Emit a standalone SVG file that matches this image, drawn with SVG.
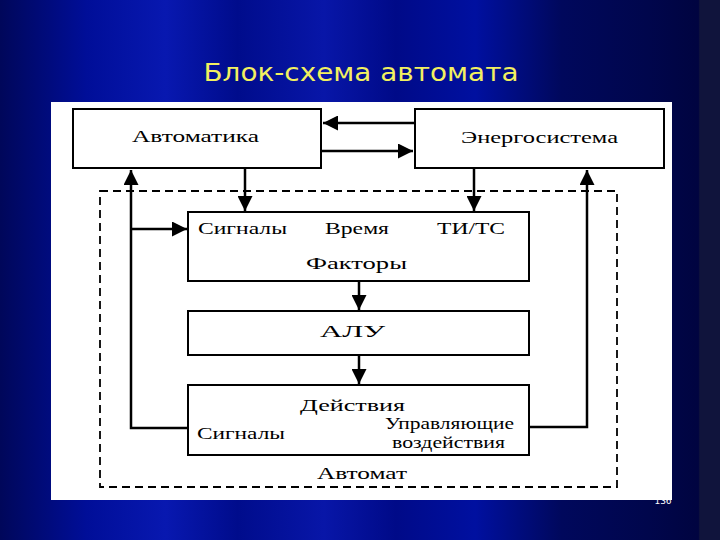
<svg xmlns="http://www.w3.org/2000/svg" width="720" height="540" viewBox="0 0 720 540">
<defs>
<linearGradient id="bg" x1="0" y1="0" x2="1" y2="0">
<stop offset="0" stop-color="#00075a"/>
<stop offset="0.12" stop-color="#000e98"/>
<stop offset="0.23" stop-color="#0818b0"/>
<stop offset="0.33" stop-color="#000c8c"/>
<stop offset="0.45" stop-color="#0816a8"/>
<stop offset="0.55" stop-color="#000a88"/>
<stop offset="0.66" stop-color="#0010a0"/>
<stop offset="0.78" stop-color="#00085c"/>
<stop offset="0.9" stop-color="#00064c"/>
<stop offset="0.97" stop-color="#000440"/>
<stop offset="0.972" stop-color="#10143c"/>
<stop offset="1" stop-color="#10143c"/>
</linearGradient>
<marker id="ah" markerUnits="userSpaceOnUse" markerWidth="15" markerHeight="15" viewBox="0 0 10 10" refX="10" refY="5" orient="auto">
<path d="M0,0 L10,5 L0,10 z" fill="#000"/>
</marker>
<style>
.box{fill:#fff;stroke:#000;stroke-width:2}
.ln{fill:none;stroke:#000;stroke-width:2.5}
.t{font-family:"Liberation Serif","Times New Roman",serif;font-size:17px;fill:#000}
</style>
</defs>
<rect width="720" height="540" fill="url(#bg)"/>
<text x="361" y="81" text-anchor="middle" font-family="'DejaVu Sans',Verdana,sans-serif" font-size="25" fill="#f2f060" textLength="315" lengthAdjust="spacingAndGlyphs">Блок-схема автомата</text>
<rect x="51" y="102" width="621" height="398" fill="#fff"/>
<text x="663" y="504" text-anchor="middle" font-family="'DejaVu Sans',sans-serif" font-size="9" fill="#fff">136</text>

<g id="automat-frame">
<rect x="100" y="191" width="517" height="296" fill="none" stroke="#000" stroke-width="1.8" stroke-dasharray="8,5"/>
<text class="t" x="317" y="479" textLength="90" lengthAdjust="spacingAndGlyphs">Автомат</text>
</g>

<g id="connectors">
<line class="ln" x1="415" y1="123" x2="323" y2="123" marker-end="url(#ah)"/>
<line class="ln" x1="321" y1="151" x2="413" y2="151" marker-end="url(#ah)"/>
<line class="ln" x1="245" y1="168" x2="245" y2="211" marker-end="url(#ah)"/>
<line class="ln" x1="474" y1="168" x2="474" y2="211" marker-end="url(#ah)"/>
<polyline class="ln" points="188,428 131,428 131,170" marker-end="url(#ah)"/>
<line class="ln" x1="131" y1="229" x2="187" y2="229" marker-end="url(#ah)"/>
<polyline class="ln" points="529,427 587,427 587,170" marker-end="url(#ah)"/>
<line class="ln" x1="359" y1="281" x2="359" y2="310" marker-end="url(#ah)"/>
<line class="ln" x1="359" y1="355" x2="359" y2="384" marker-end="url(#ah)"/>
</g>

<g id="avtomatika">
<rect class="box" x="73" y="109" width="248" height="59"/>
<text class="t" x="132" y="142" textLength="127" lengthAdjust="spacingAndGlyphs">Автоматика</text>
</g>
<g id="energosistema">
<rect class="box" x="415" y="109" width="249" height="59"/>
<text class="t" x="461" y="143" textLength="157" lengthAdjust="spacingAndGlyphs">Энергосистема</text>
</g>
<g id="faktory">
<rect class="box" x="188" y="212" width="341" height="69"/>
<text class="t" x="198" y="234" textLength="89" lengthAdjust="spacingAndGlyphs">Сигналы</text>
<text class="t" x="325" y="234" textLength="64" lengthAdjust="spacingAndGlyphs">Время</text>
<text class="t" x="437" y="234" textLength="68" lengthAdjust="spacingAndGlyphs">ТИ/ТС</text>
<text class="t" x="306" y="269" textLength="101" lengthAdjust="spacingAndGlyphs">Факторы</text>
</g>
<g id="alu">
<rect class="box" x="188" y="311" width="341" height="44"/>
<text class="t" x="320" y="337" textLength="65" lengthAdjust="spacingAndGlyphs">АЛУ</text>
</g>
<g id="deystviya">
<rect class="box" x="188" y="385" width="341" height="70"/>
<text class="t" x="300" y="411" textLength="105" lengthAdjust="spacingAndGlyphs">Действия</text>
<text class="t" x="197" y="439" textLength="88" lengthAdjust="spacingAndGlyphs">Сигналы</text>
<text class="t" x="385" y="429" textLength="129" lengthAdjust="spacingAndGlyphs">Управляющие</text>
<text class="t" x="392" y="448" font-size="14" textLength="113" lengthAdjust="spacingAndGlyphs">воздействия</text>
</g>
</svg>
